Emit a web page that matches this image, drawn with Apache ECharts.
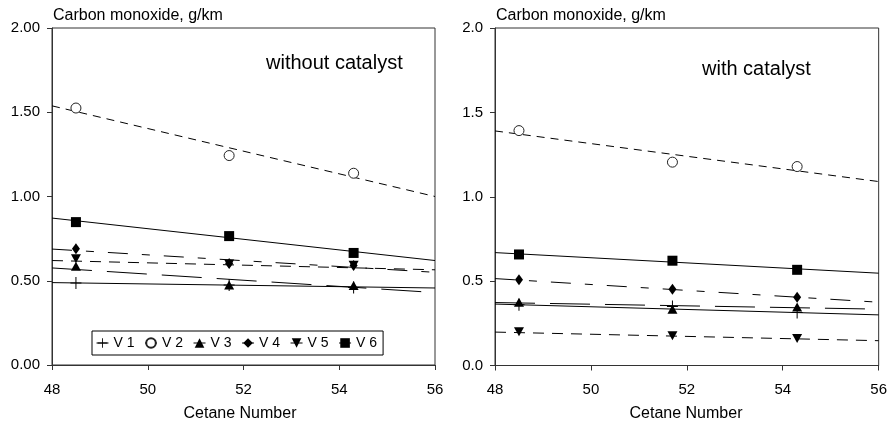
<!DOCTYPE html>
<html>
<head>
<meta charset="utf-8">
<script src="https://cdn.jsdelivr.net/npm/echarts@6/dist/echarts.min.js"></script>
<style>
  html, body { margin: 0; padding: 0; background: #fff; }
  #chart { width: 890px; height: 423px; }
</style>
</head>
<body>
<div id="chart"></div>
<script>
// Test fuels: cetane numbers of the three fuels
const cetaneNumbers = [48.5, 51.7, 54.3];
// Regression lines are drawn across the full axis range
const fitEnds = [48, 56];
const vehicles = ['V 1', 'V 2', 'V 3', 'V 4', 'V 5', 'V 6'];
const xTicks = [48, 50, 52, 54, 56];
const yTicks = [0, 0.5, 1.0, 1.5, 2.0];

// CO emissions without catalyst, g/km
const noCatV1 = [0.487, 0.475, 0.460];
const noCatV2 = [1.525, 1.243, 1.138];
const noCatV3 = [0.586, 0.475, 0.472];
const noCatV4 = [0.690, 0.602, 0.590];
const noCatV5 = [0.630, 0.600, 0.592];
const noCatV6 = [0.848, 0.765, 0.665];
// linear fits, value at cetane 48 and 56
const noCatFitV1 = [0.489, 0.457];
const noCatFitV2 = [1.538, 1.000];
const noCatFitV3 = [0.576, 0.430];
const noCatFitV4 = [0.688, 0.550];
const noCatFitV5 = [0.620, 0.565];
const noCatFitV6 = [0.872, 0.620];

// CO emissions with catalyst, g/km
const catV1 = [0.360, 0.350, 0.314];
const catV2 = [1.392, 1.205, 1.179];
const catV3 = [0.375, 0.334, 0.346];
const catV4 = [0.508, 0.452, 0.405];
const catV5 = [0.200, 0.176, 0.160];
const catV6 = [0.658, 0.621, 0.567];
const catFitV1 = [0.364, 0.300];
const catFitV2 = [1.390, 1.090];
const catFitV3 = [0.373, 0.334];
const catFitV4 = [0.515, 0.375];
const catFitV5 = [0.198, 0.147];
const catFitV6 = [0.669, 0.547];

const FONT = '"Liberation Sans", Arial, Helvetica, sans-serif';
const PLUS = 'path://M5,0H6V5H11V6H6V11H5V6H0V5H5Z';

// marker and fit-line style per vehicle
const styles = [
  { symbol: PLUS, size: [11, 12], rotate: 0, dash: 'solid', hollow: false },
  { symbol: 'circle', size: 10, rotate: 0, dash: [8, 6], hollow: true },
  { symbol: 'triangle', size: [10, 9], rotate: 0, dash: [40, 15], hollow: false },
  { symbol: 'diamond', size: [8, 11], rotate: 0, dash: [20, 14, 8, 14], hollow: false },
  { symbol: 'triangle', size: [10, 9], rotate: 180, dash: [11, 8], hollow: false },
  { symbol: 'rect', size: 10, rotate: 0, dash: 'solid', hollow: false }
];

const panels = [
  { points: [noCatV1, noCatV2, noCatV3, noCatV4, noCatV5, noCatV6],
    fits: [noCatFitV1, noCatFitV2, noCatFitV3, noCatFitV4, noCatFitV5, noCatFitV6],
    decimals: 2 },
  { points: [catV1, catV2, catV3, catV4, catV5, catV6],
    fits: [catFitV1, catFitV2, catFitV3, catFitV4, catFitV5, catFitV6],
    decimals: 1 }
];

const axisColor = '#333';

const grids = [
  { left: 52, top: 28, width: 383, height: 337 },
  { left: 495, top: 28, width: 387, height: 337.5 }
].map(g => Object.assign(g, { show: true, borderColor: axisColor, borderWidth: 1, containLabel: false }));

const xAxes = panels.map((p, i) => ({
  type: 'value', gridIndex: i,
  min: xTicks[0], max: xTicks[xTicks.length - 1], interval: xTicks[1] - xTicks[0],
  axisLine: { show: true, onZero: false, lineStyle: { color: axisColor, width: 1 } },
  axisTick: { show: true, inside: false, length: 5, lineStyle: { color: axisColor, width: 1 } },
  axisLabel: { margin: 17, fontSize: 15, color: '#000', fontFamily: FONT, showMinLabel: true, showMaxLabel: true },
  splitLine: { show: false }
}));

const yAxes = panels.map((p, i) => ({
  type: 'value', gridIndex: i,
  min: yTicks[0], max: yTicks[yTicks.length - 1], interval: yTicks[1] - yTicks[0],
  axisLine: { show: true, onZero: false, lineStyle: { color: axisColor, width: 1 } },
  axisTick: { show: true, inside: false, length: 5, lineStyle: { color: axisColor, width: 1 } },
  axisLabel: { margin: 12, fontSize: 15, color: '#000', fontFamily: FONT,
    formatter: v => v.toFixed(p.decimals), showMinLabel: true, showMaxLabel: true },
  splitLine: { show: false }
}));

const series = [];
panels.forEach((p, pi) => {
  // regression lines underneath
  p.fits.forEach((fit, vi) => {
    series.push({
      type: 'line', name: vehicles[vi] + ' fit', xAxisIndex: pi, yAxisIndex: pi,
      data: fitEnds.map((x, k) => [x, fit[k]]),
      symbol: 'none', silent: true, z: 2,
      lineStyle: { color: '#000', width: 1, type: styles[vi].dash }
    });
  });
  // measured values as markers only
  p.points.forEach((vals, vi) => {
    const st = styles[vi];
    series.push({
      type: 'line', name: vehicles[vi], xAxisIndex: pi, yAxisIndex: pi,
      data: cetaneNumbers.map((x, k) => [x, vals[k]]),
      symbol: st.symbol, symbolSize: st.size, symbolRotate: st.rotate,
      showSymbol: true, silent: true, z: 3,
      lineStyle: { width: 0, color: '#000' },
      itemStyle: st.hollow
        ? { color: '#fff', borderColor: '#222', borderWidth: 1 }
        : { color: '#000', borderWidth: 0 }
    });
  });
});

const chart = echarts.init(document.getElementById('chart'), null, { renderer: 'canvas' });
chart.setOption({
  animation: false,
  backgroundColor: '#fff',
  grid: grids,
  xAxis: xAxes,
  yAxis: yAxes,
  legend: {
    data: vehicles,
    left: 92, top: 331,
    orient: 'horizontal',
    padding: [5, 6, 5, 4],
    itemGap: 10,
    itemWidth: 12,
    itemHeight: 12,
    borderColor: '#000', borderWidth: 1,
    backgroundColor: '#fff',
    selectedMode: false,
    lineStyle: { width: 1, color: '#000', type: 'solid' },
    textStyle: { fontSize: 14, color: '#000', fontFamily: FONT }
  },
  graphic: [
    { type: 'text', x: 53, y: 16, style: { text: 'Carbon monoxide, g/km', fontSize: 16, fontFamily: FONT, fill: '#000', align: 'left', verticalAlign: 'middle' } },
    { type: 'text', x: 496, y: 16, style: { text: 'Carbon monoxide, g/km', fontSize: 16, fontFamily: FONT, fill: '#000', align: 'left', verticalAlign: 'middle' } },
    { type: 'text', x: 266, y: 63, style: { text: 'without catalyst', fontSize: 20, fontFamily: FONT, fill: '#000', align: 'left', verticalAlign: 'middle' } },
    { type: 'text', x: 702, y: 69, style: { text: 'with catalyst', fontSize: 20, fontFamily: FONT, fill: '#000', align: 'left', verticalAlign: 'middle' } },
    { type: 'text', x: 240, y: 414, style: { text: 'Cetane Number', fontSize: 16, fontFamily: FONT, fill: '#000', align: 'center', verticalAlign: 'middle' } },
    { type: 'text', x: 686, y: 414, style: { text: 'Cetane Number', fontSize: 16, fontFamily: FONT, fill: '#000', align: 'center', verticalAlign: 'middle' } }
  ],
  series: series
});
</script>
</body>
</html>
